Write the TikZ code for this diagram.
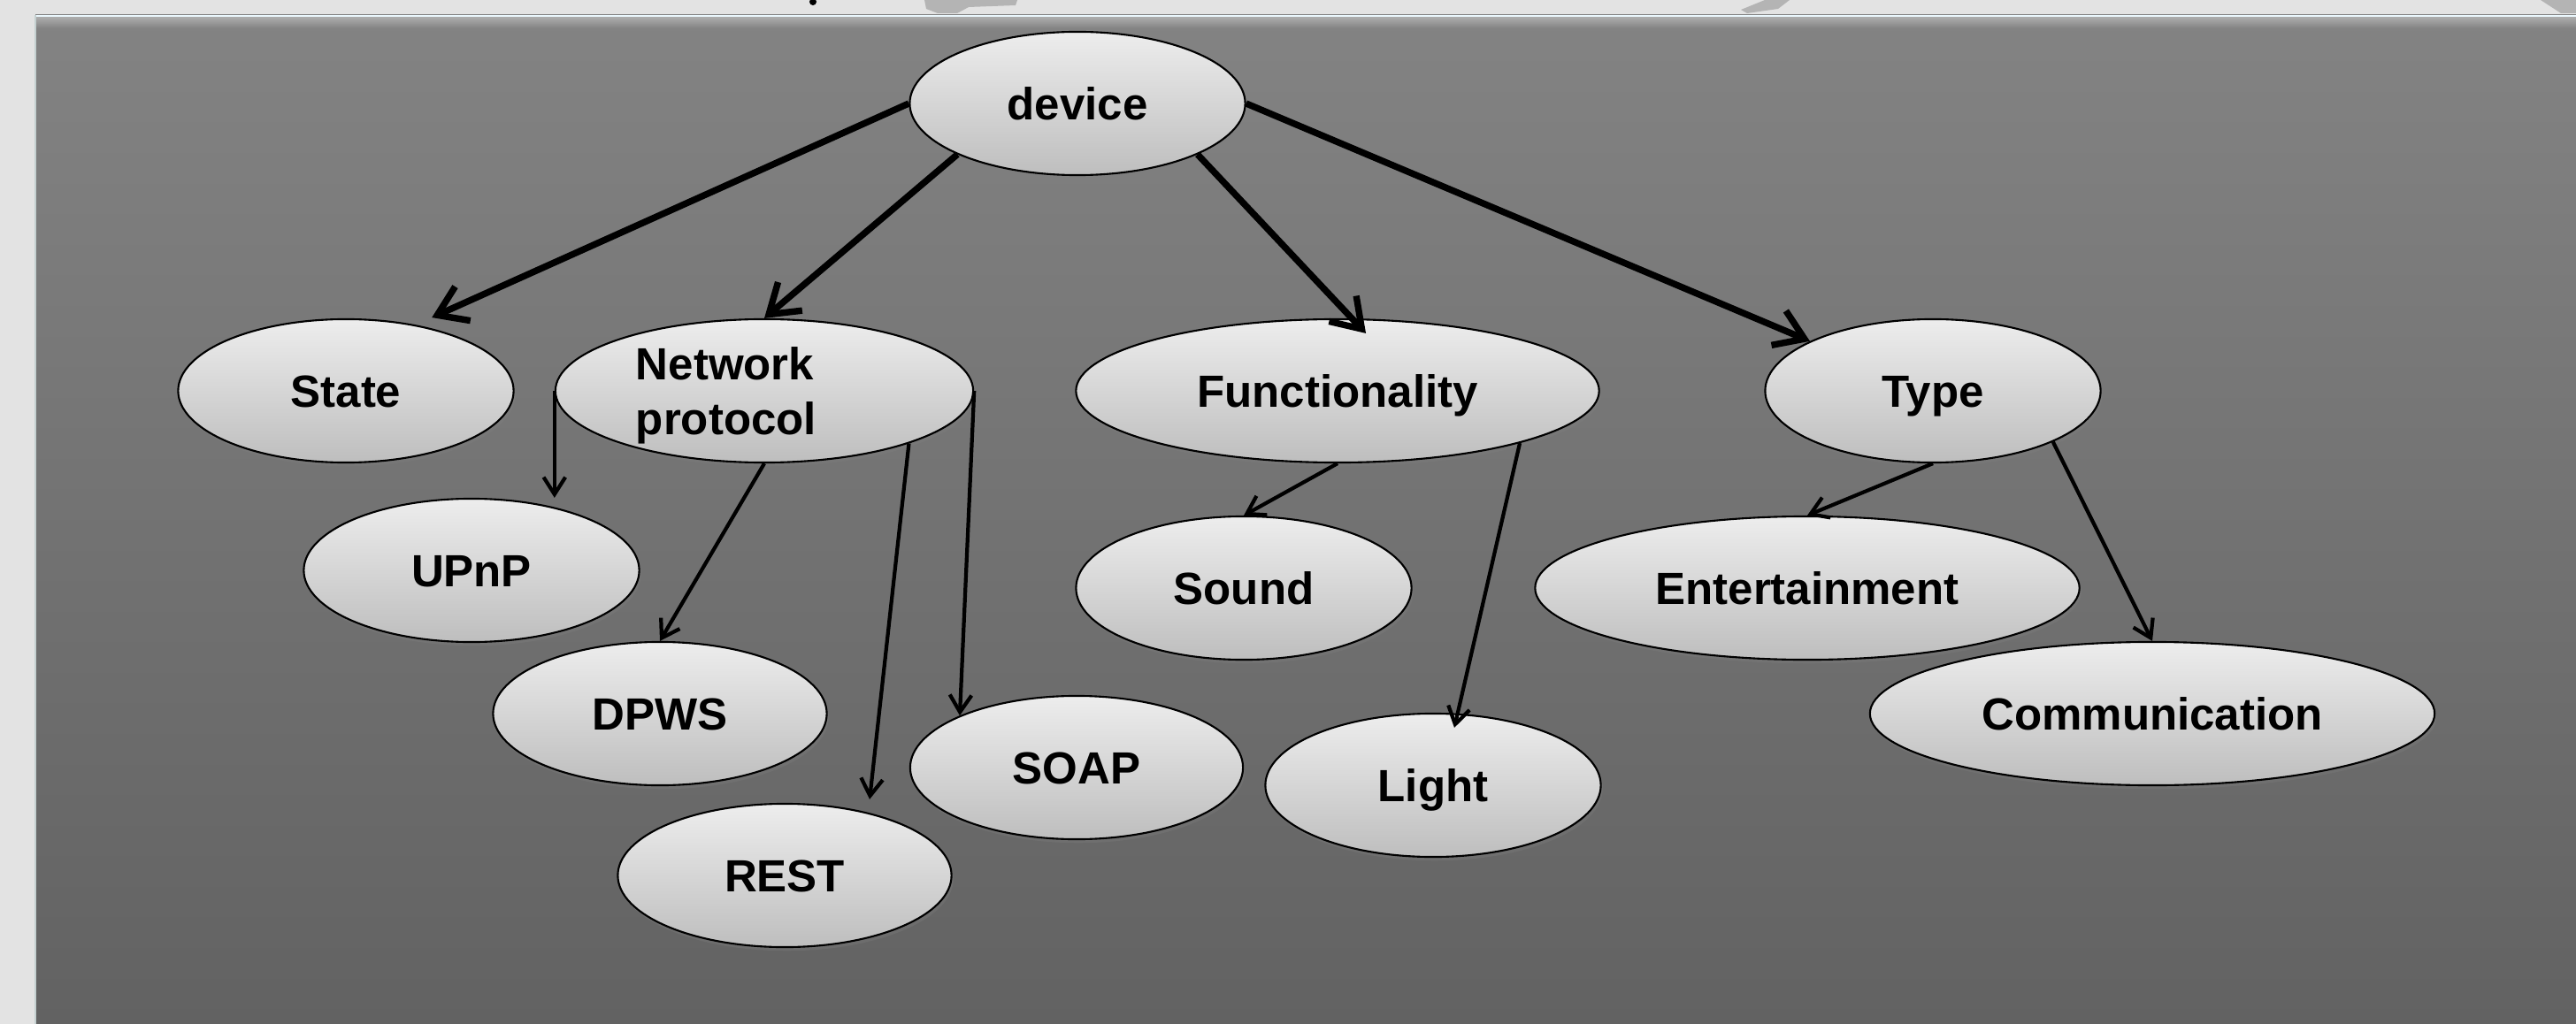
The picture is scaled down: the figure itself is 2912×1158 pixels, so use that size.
\documentclass[tikz,border=0pt]{standalone}
\usepackage{fontspec}
\setmainfont{Liberation Sans}
\usetikzlibrary{arrows.meta,shadows,shapes.geometric}
\definecolor{pagebg}{HTML}{E3E3E3}
\definecolor{paneltop}{HTML}{838383}
\definecolor{panelbot}{HTML}{626262}
\definecolor{elltop}{HTML}{EDEDED}
\definecolor{ellbot}{HTML}{BEBEBE}
\definecolor{fraggray}{HTML}{B4B4B4}
\definecolor{edgeline}{HTML}{C4D0D0}
\begin{document}
\begin{tikzpicture}[x=0.01cm,y=-0.01cm,
  oval/.style={ellipse, draw=black, line width=0.6pt, top color=elltop, bottom color=ellbot,
    minimum height=1.62cm, inner sep=0pt,
    font=\fontsize{14.5}{17.6}\selectfont\bfseries, text height=10.4pt, text depth=0pt,
    drop shadow={shadow xshift=0.6pt, shadow yshift=-1.2pt, opacity=0.3}},
  bigarrow/.style={line width=2.1pt, -{Straight Barb[length=9pt,width=12pt]}},
  smallarrow/.style={line width=1.2pt, -{Straight Barb[length=5.5pt,width=7pt]}}]

% page and panel
\fill[pagebg] (0,0) rectangle (2912,1158);
\useasboundingbox (0,0) rectangle (2912,1158);
\shade[top color=paneltop, bottom color=panelbot] (40,17) rectangle (2912,1158);
\shade[top color=white!68!black, bottom color=paneltop] (40,19) rectangle (2912,32);
\draw[white!92!cyan, line width=0.7pt] (40,18) -- (2912,18);
\draw[edgeline, line width=0.7pt] (40,17) -- (40,1158);

% cut-off fragments above the panel
\fill[black] (919,2) circle (4);
\fill[fraggray] (1045,0) -- (1150,0) -- (1148,6) -- (1095,8) -- (1082,15) -- (1060,15) -- (1047,10) -- cycle;
\fill[fraggray] (1995,0) -- (2023,0) -- (2010,10) -- (1975,15) -- (1968,11) -- cycle;
\fill[fraggray] (2872,0) -- (2912,0) -- (2912,15) -- (2895,15) -- cycle;

% nodes
\node[oval, minimum width=3.79cm] (device) at (1218,117) {device};
\node[oval, minimum width=3.79cm] (state) at (391,442) {State};
\node[oval, minimum width=4.72cm, text depth=17.6pt] (np) at (864,442)
  {\begin{tabular}[t]{@{}l@{\hspace{24.5pt}}}Network\\protocol\end{tabular}};
\node[oval, minimum width=5.91cm] (func) at (1512,442) {Functionality};
\node[oval, minimum width=3.79cm] (type) at (2185,442) {Type};
\node[oval, minimum width=3.79cm] (upnp) at (533,645) {UPnP};
\node[oval, minimum width=3.77cm] (dpws) at (746,807) {DPWS};
\node[oval, minimum width=3.77cm] (rest) at (887,990) {REST};
\node[oval, minimum width=3.76cm] (soap) at (1217,868) {SOAP};
\node[oval, minimum width=3.79cm] (sound) at (1406,665) {Sound};
\node[oval, minimum width=3.79cm] (light) at (1620,888) {Light};
\node[oval, minimum width=6.15cm] (ent) at (2043,665) {Entertainment};
\node[oval, minimum width=6.38cm] (comm) at (2433,807) {Communication};

% connectors
\draw[bigarrow] (device.west) -- ([yshift=3.5pt]state.36);
\draw[bigarrow] (device.203) -- (np.north);
\draw[bigarrow] (device.-23) -- ([xshift=0.32cm,yshift=-0.17cm]func.north);
\draw[bigarrow] (device.east) -- (type.158);
\draw[smallarrow] (np.west) -- (np.west |- upnp.north);
\draw[smallarrow] (np.south) -- (dpws.north);
\draw[smallarrow] (np.-20) -- ([xshift=0.96cm,yshift=0.04cm]rest.north);
\draw[smallarrow] (np.east) -- (soap.156);
\draw[smallarrow] (func.south) -- (sound.north);
\draw[smallarrow] (func.-16) -- ([xshift=0.24cm,yshift=-0.17cm]light.north);
\draw[smallarrow] (type.south) -- (ent.north);
\draw[smallarrow] (type.-23) -- (comm.north);
\end{tikzpicture}
\end{document}
